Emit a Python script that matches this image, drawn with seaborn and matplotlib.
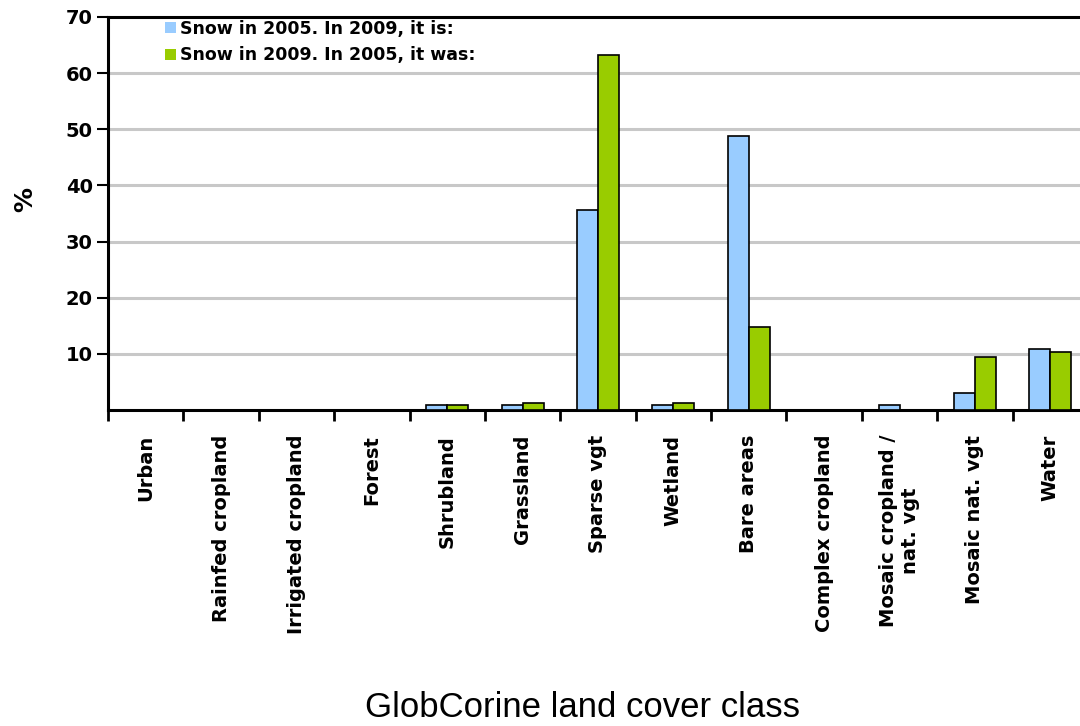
import matplotlib
matplotlib.use("Agg")
import matplotlib.pyplot as plt
import pandas as pd
import seaborn as sns

categories = [
    "Urban", "Rainfed cropland", "Irrigated cropland", "Forest", "Shrubland",
    "Grassland", "Sparse vgt", "Wetland", "Bare areas", "Complex cropland",
    "Mosaic cropland /\nnat. vgt", "Mosaic nat. vgt", "Water",
]
snow_2005 = [0, 0, 0, 0, 0.8, 0.8, 35.7, 0.8, 48.8, 0, 0.8, 3.1, 10.8]
snow_2009 = [0, 0, 0, 0, 0.8, 1.3, 63.2, 1.3, 14.8, 0, 0, 9.4, 10.4]
series = ["Snow in 2005. In 2009, it is:", "Snow in 2009. In 2005, it was:"]
colors = ["#99CCFF", "#99CC00"]


def main():
    data = pd.DataFrame({
        "category": categories * 2,
        "value": snow_2005 + snow_2009,
        "series": [series[0]] * len(categories) + [series[1]] * len(categories),
    })

    sns.set_style("white")
    plt.rcParams["font.family"] = ["DejaVu Sans"]
    plt.rcParams["text.color"] = "black"
    plt.rcParams["xtick.color"] = "black"
    plt.rcParams["ytick.color"] = "black"

    fig = plt.figure(figsize=(10.8, 7.26), dpi=100)
    ax = fig.add_axes([0.1, 0.4353, 0.9074, 0.5413])

    sns.barplot(
        data, x="category", y="value", hue="series", palette=colors,
        saturation=1, width=0.555, edgecolor="black", linewidth=1.2, ax=ax,
        zorder=3, legend=True,
    )

    ax.set_xlim(-0.5, len(categories) - 0.5)
    ax.set_ylim(0, 70)
    ax.set_yticks(range(10, 71, 10))
    for y in range(10, 70, 10):
        ax.axhline(y, color="#c8c8c8", lw=2.2, zorder=1)

    for side in ["left", "bottom", "top"]:
        ax.spines[side].set_linewidth(2.2)
        ax.spines[side].set_color("black")
    ax.spines["right"].set_visible(False)

    ax.set_xticks(range(len(categories)))
    ax.set_xticklabels(categories, rotation=90, fontweight="bold", fontsize=14)
    ax.set_xticks([i - 0.5 for i in range(len(categories) + 1)], minor=True)
    ax.tick_params(axis="x", which="major", length=0, pad=18)
    ax.tick_params(axis="x", which="minor", length=8, width=2, color="black",
                   direction="out", bottom=True)
    ax.tick_params(axis="y", length=8, width=1.5, color="black", left=True,
                   direction="out", labelsize=14, pad=3)
    for t in ax.get_yticklabels():
        t.set_fontweight("bold")

    ax.set_xlabel("")
    ax.set_ylabel("")
    fig.text(0.539, 0.003, "GlobCorine land cover class", ha="center",
             va="bottom", fontsize=25, family="Liberation Sans")
    fig.text(0.023, 0.725, "%", rotation=90, ha="center", va="center",
             fontsize=18, fontweight="bold")

    ax.legend(
        loc="upper left", bbox_to_anchor=(0.145, 0.985), bbox_transform=fig.transFigure,
        frameon=False, handlelength=0.6, handleheight=0.6,
        handletextpad=0.25, labelspacing=0.5, borderpad=0,
        prop={"weight": "bold", "size": 12.5},
    )
    for h in ax.get_legend().legend_handles:
        h.set_edgecolor("none")

    plt.savefig("out.png", dpi=100)


if __name__ == "__main__":
    main()
